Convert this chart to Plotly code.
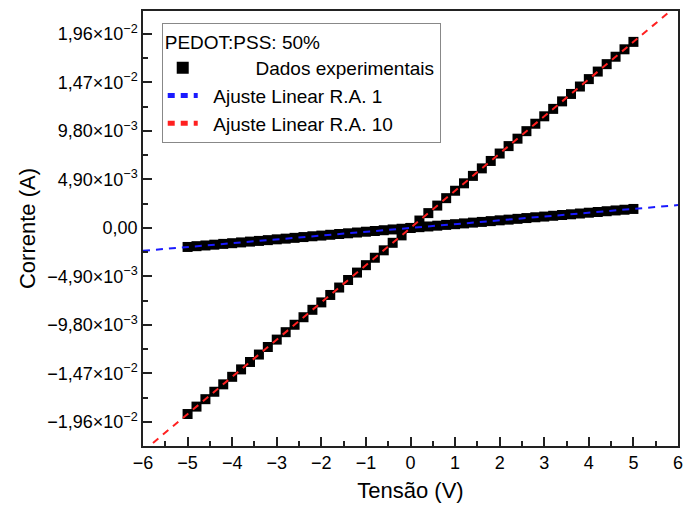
import plotly.graph_objects as go

# Voltage sweep (V)
tensao = [-5.0, -4.8, -4.6, -4.4, -4.2, -4.0, -3.8, -3.6, -3.4, -3.2, -3.0,
          -2.8, -2.6, -2.4, -2.2, -2.0, -1.8, -1.6, -1.4, -1.2, -1.0,
          -0.8, -0.6, -0.4, -0.2, 0.0, 0.2, 0.4, 0.6, 0.8, 1.0,
          1.2, 1.4, 1.6, 1.8, 2.0, 2.2, 2.4, 2.6, 2.8, 3.0,
          3.2, 3.4, 3.6, 3.8, 4.0, 4.2, 4.4, 4.6, 4.8, 5.0]

# Measured current, R.A. 10 (A)
corrente_ra10 = [-0.01880, -0.01805, -0.01730, -0.01655, -0.01580, -0.01504, -0.01429,
                 -0.01354, -0.01279, -0.01203, -0.01128, -0.01053, -0.00978, -0.00902,
                 -0.00827, -0.00752, -0.00677, -0.00602, -0.00526, -0.00451, -0.00376,
                 -0.00301, -0.00226, -0.00150, -0.00075, 0.00000, 0.00075, 0.00150,
                 0.00226, 0.00301, 0.00376, 0.00451, 0.00526, 0.00602, 0.00677,
                 0.00752, 0.00827, 0.00902, 0.00978, 0.01053, 0.01128, 0.01203,
                 0.01279, 0.01354, 0.01429, 0.01504, 0.01580, 0.01655, 0.01730,
                 0.01805, 0.01880]

# Measured current, R.A. 1 (A)
corrente_ra1 = [-0.00192, -0.00184, -0.00177, -0.00169, -0.00161, -0.00154, -0.00146,
                -0.00138, -0.00131, -0.00123, -0.00115, -0.00108, -0.00100, -0.00092,
                -0.00084, -0.00077, -0.00069, -0.00061, -0.00054, -0.00046, -0.00038,
                -0.00031, -0.00023, -0.00015, -0.00008, 0.00000, 0.00008, 0.00015,
                0.00023, 0.00031, 0.00038, 0.00046, 0.00054, 0.00061, 0.00069,
                0.00077, 0.00084, 0.00092, 0.00100, 0.00108, 0.00115, 0.00123,
                0.00131, 0.00138, 0.00146, 0.00154, 0.00161, 0.00169, 0.00177,
                0.00184, 0.00192]

# Linear fits evaluated at the ends of the axis
ajuste_x = [-6.0, 6.0]
ajuste_ra1 = [-0.00231, 0.00231]
ajuste_ra10 = [-0.02256, 0.02256]

# Axis ticks
y_tickvals = [0.0196, 0.0147, 0.0098, 0.0049, 0.0, -0.0049, -0.0098, -0.0147, -0.0196]
y_ticktext = ["1,96×10<sup>−2</sup>", "1,47×10<sup>−2</sup>", "9,80×10<sup>−3</sup>",
              "4,90×10<sup>−3</sup>", "0,00", "−4,90×10<sup>−3</sup>",
              "−9,80×10<sup>−3</sup>", "−1,47×10<sup>−2</sup>", "−1,96×10<sup>−2</sup>"]
y_minorvals = [0.02205, 0.01715, 0.01225, 0.00735, 0.00245, -0.00245, -0.00735,
               -0.01225, -0.01715]
x_tickvals = [-6, -5, -4, -3, -2, -1, 0, 1, 2, 3, 4, 5, 6]
x_ticktext = ["−6", "−5", "−4", "−3", "−2", "−1", "0", "1", "2", "3", "4", "5", "6"]

NB = "\u00a0"

fig = go.Figure()

fig.add_trace(go.Scatter(
    x=tensao + [None] + tensao,
    y=corrente_ra10 + [None] + corrente_ra1,
    mode="markers",
    name=NB * 10 + "Dados experimentais",
    marker=dict(symbol="square", size=10, color="black", line=dict(width=0)),
))
fig.add_trace(go.Scatter(
    x=ajuste_x, y=ajuste_ra1, mode="lines", name=NB * 2 + "Ajuste Linear R.A. 1",
    line=dict(color="#1a1aff", width=2, dash="7px,6px"),
))
fig.add_trace(go.Scatter(
    x=ajuste_x, y=ajuste_ra10, mode="lines", name=NB * 2 + "Ajuste Linear R.A. 10",
    line=dict(color="#ff2020", width=2, dash="7px,6px"),
))

font_family = "Liberation Sans, Arial, sans-serif"

fig.update_layout(
    width=687, height=510,
    margin=dict(l=143, r=4, t=11, b=64),
    plot_bgcolor="white", paper_bgcolor="white",
    font=dict(family=font_family, color="black", size=17),
    showlegend=True,
    legend=dict(
        x=0.035, y=0.972, xanchor="left", yanchor="top",
        bgcolor="white", bordercolor="#888888", borderwidth=1,
        font=dict(size=19, family=font_family),
        title=dict(text="PEDOT:PSS: 50%", font=dict(size=19, family=font_family)),
        tracegroupgap=0, itemsizing="constant",
    ),
    xaxis=dict(
        range=[-6, 6], tickmode="array", tickvals=x_tickvals, ticktext=x_ticktext,
        ticks="inside", ticklen=9, tickwidth=1.5, tickcolor="#222",
        minor=dict(ticks="inside", ticklen=5, tickwidth=1.5, tickcolor="#222", dtick=0.5, tick0=0),
        showline=True, linecolor="#222", linewidth=1.5, mirror=True,
        showgrid=False, zeroline=False,
        tickfont=dict(size=18),
        title=dict(text="Tensão (V)", font=dict(size=22), standoff=10),
    ),
    yaxis=dict(
        range=[-0.02203, 0.02192], tickmode="array", tickvals=y_tickvals, ticktext=y_ticktext,
        ticks="inside", ticklen=9, tickwidth=1.5, tickcolor="#222",
        minor=dict(ticks="inside", ticklen=5, tickwidth=1.5, tickcolor="#222",
                   tickmode="array", tickvals=y_minorvals),
        showline=True, linecolor="#222", linewidth=1.5, mirror=True,
        showgrid=False, zeroline=False,
        tickfont=dict(size=18),
        title=dict(text="Corrente (A)", font=dict(size=22), standoff=6),
    ),
)

fig.write_html("out.html")
